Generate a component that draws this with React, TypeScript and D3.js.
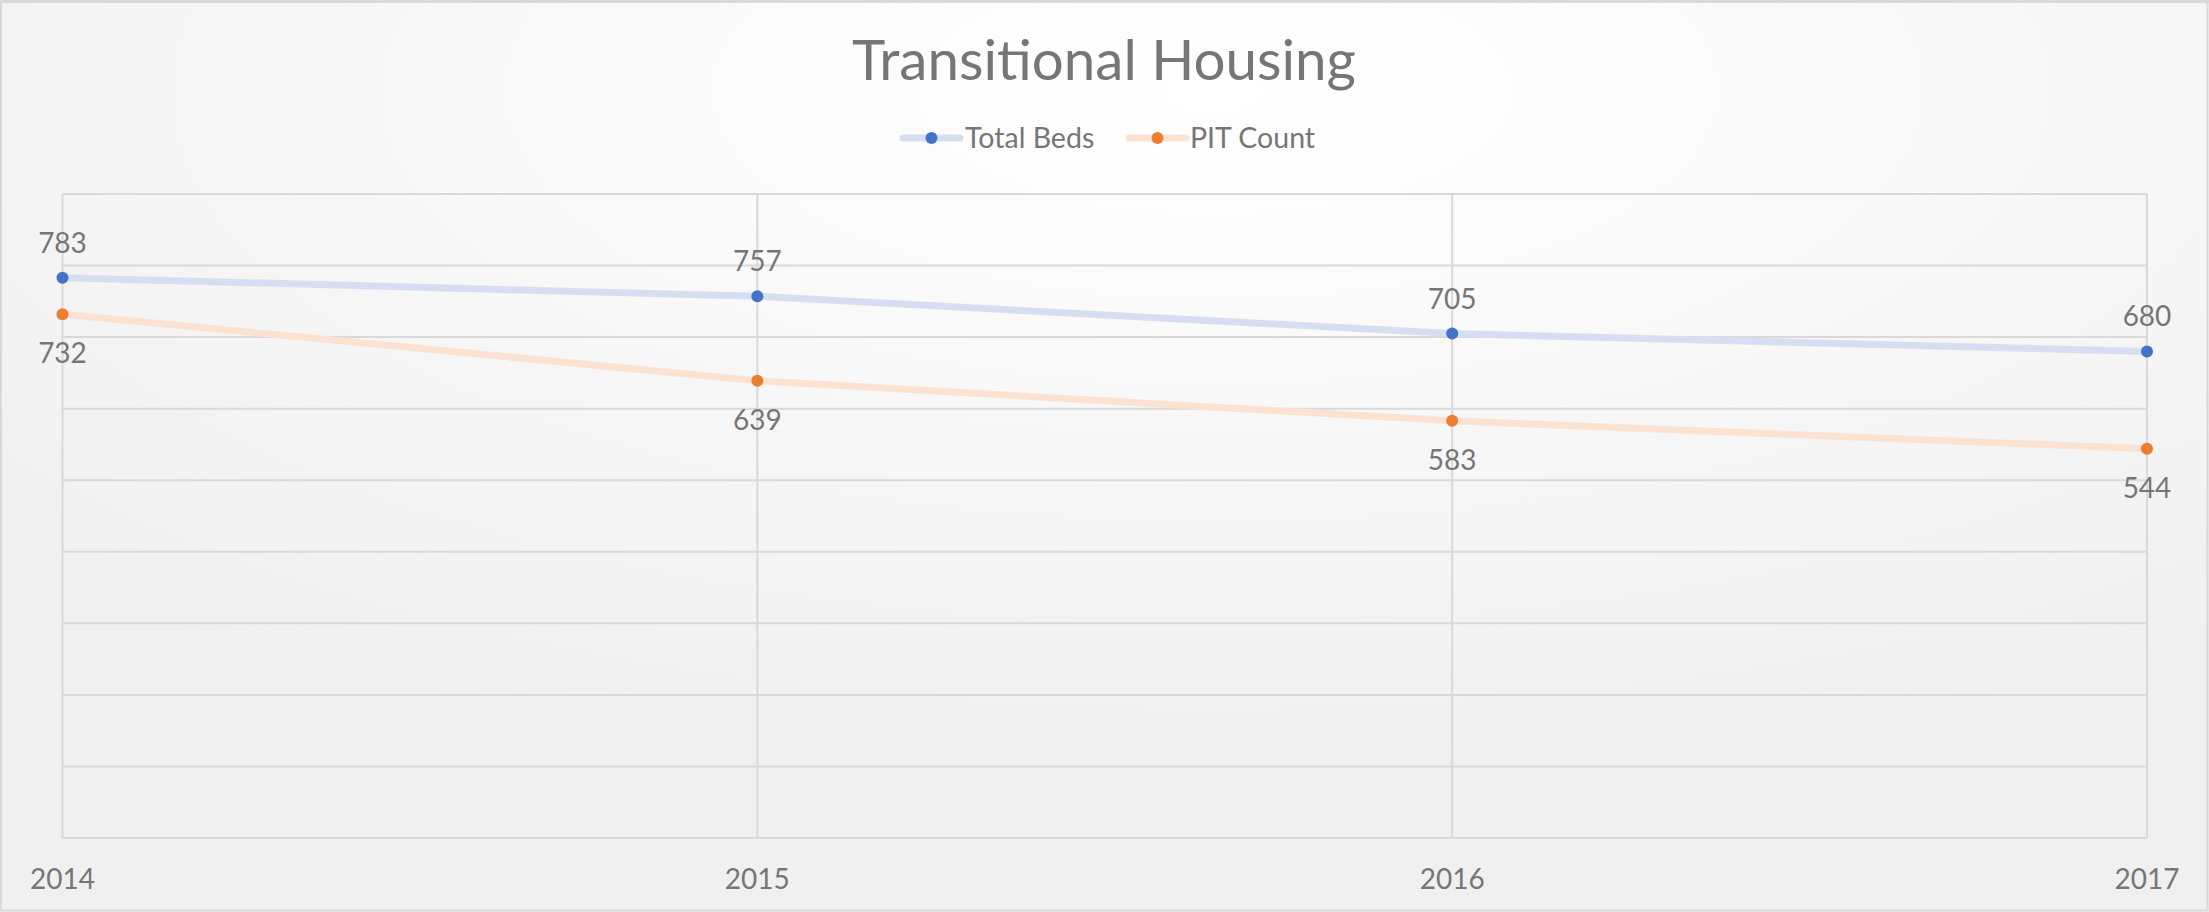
import React from "react";
import * as d3 from "d3";

const years = ["2014", "2015", "2016", "2017"];
const totalBeds = [783, 757, 705, 680];
const pitCount = [732, 639, 583, 544];
const yTicks = [0, 100, 200, 300, 400, 500, 600, 700, 800, 900];
const title = "Transitional Housing";
const seriesNames = ["Total Beds", "PIT Count"];

const W = 2209;
const H = 912;
const FONT = "Lato, 'Open Sans', sans-serif";
const TEXT = "#767676";

export default function App() {
  const x = d3.scalePoint<string>().domain(years).range([62.5, 2147]);
  const y = d3.scaleLinear().domain([0, 900]).range([838, 194]);
  const line = d3
    .line<number>()
    .x((_, i) => x(years[i]) as number)
    .y((d) => y(d))
    .curve(d3.curveLinear);

  const series = [
    { name: seriesNames[0], data: totalBeds, line: "#D6DFF1", marker: "#4472C4", above: true },
    { name: seriesNames[1], data: pitCount, line: "#FBE3D3", marker: "#ED7D31", above: false },
  ];

  const legend = [
    { x0: 903, tx: 965 },
    { x0: 1129, tx: 1190 },
  ];

  return (
    <svg
      width={W}
      height={H}
      style={{ position: "absolute", left: 0, top: 0 }}
      fontFamily={FONT}
    >
      <defs>
        <radialGradient id="bg" cx="0.55" cy="0.1" r="0.75" fx="0.55" fy="0.1">
          <stop offset="0" stopColor="#FFFFFF" />
          <stop offset="1" stopColor="#F0F0F0" />
        </radialGradient>
      </defs>
      <rect x={0} y={0} width={W} height={H} fill="url(#bg)" />
      <rect x={1} y={1.5} width={W - 2.5} height={H - 3} fill="none" stroke="#D9D9D9" strokeWidth={2} />
      <line x1={0} x2={W} y1={1.5} y2={1.5} stroke="#D5DAE1" strokeWidth={3} />

      {/* gridlines */}
      {yTicks.map((t) => (
        <line key={"h" + t} x1={x(years[0])} x2={x(years[3])} y1={y(t)} y2={y(t)} stroke="#D9D9D9" strokeWidth={2} />
      ))}
      {years.map((yr) => (
        <line key={"v" + yr} x1={x(yr)} x2={x(yr)} y1={y(900)} y2={y(0)} stroke="#D9D9D9" strokeWidth={2} />
      ))}

      {/* category labels */}
      {years.map((yr) => (
        <text key={"c" + yr} x={x(yr)} y={889} textAnchor="middle" fontSize={28} fill={TEXT}>
          {yr}
        </text>
      ))}

      {/* title */}
      <text x={1104} y={80} textAnchor="middle" fontSize={56.5} fill={TEXT}>
        {title}
      </text>

      {/* legend */}
      {series.map((s, i) => (
        <g key={"lg" + i}>
          <line x1={legend[i].x0} x2={legend[i].x0 + 57} y1={138} y2={138} stroke={s.line} strokeWidth={7} strokeLinecap="round" />
          <circle cx={legend[i].x0 + 28.5} cy={138} r={6} fill={s.marker} />
          <text x={legend[i].tx} y={148} fontSize={28.5} fill={TEXT}>
            {s.name}
          </text>
        </g>
      ))}

      {/* series */}
      {series.map((s, i) => (
        <g key={"s" + i}>
          <path d={line(s.data) || ""} fill="none" stroke={s.line} strokeWidth={7} strokeLinecap="round" />
          {s.data.map((v, j) => (
            <circle key={j} cx={x(years[j])} cy={y(v)} r={6} fill={s.marker} />
          ))}
          {s.data.map((v, j) => (
            <text
              key={"t" + j}
              x={x(years[j])}
              y={s.above ? y(v) - 25 : y(v) + 49}
              textAnchor="middle"
              fontSize={28}
              fill={TEXT}
            >
              {v}
            </text>
          ))}
        </g>
      ))}
    </svg>
  );
}
